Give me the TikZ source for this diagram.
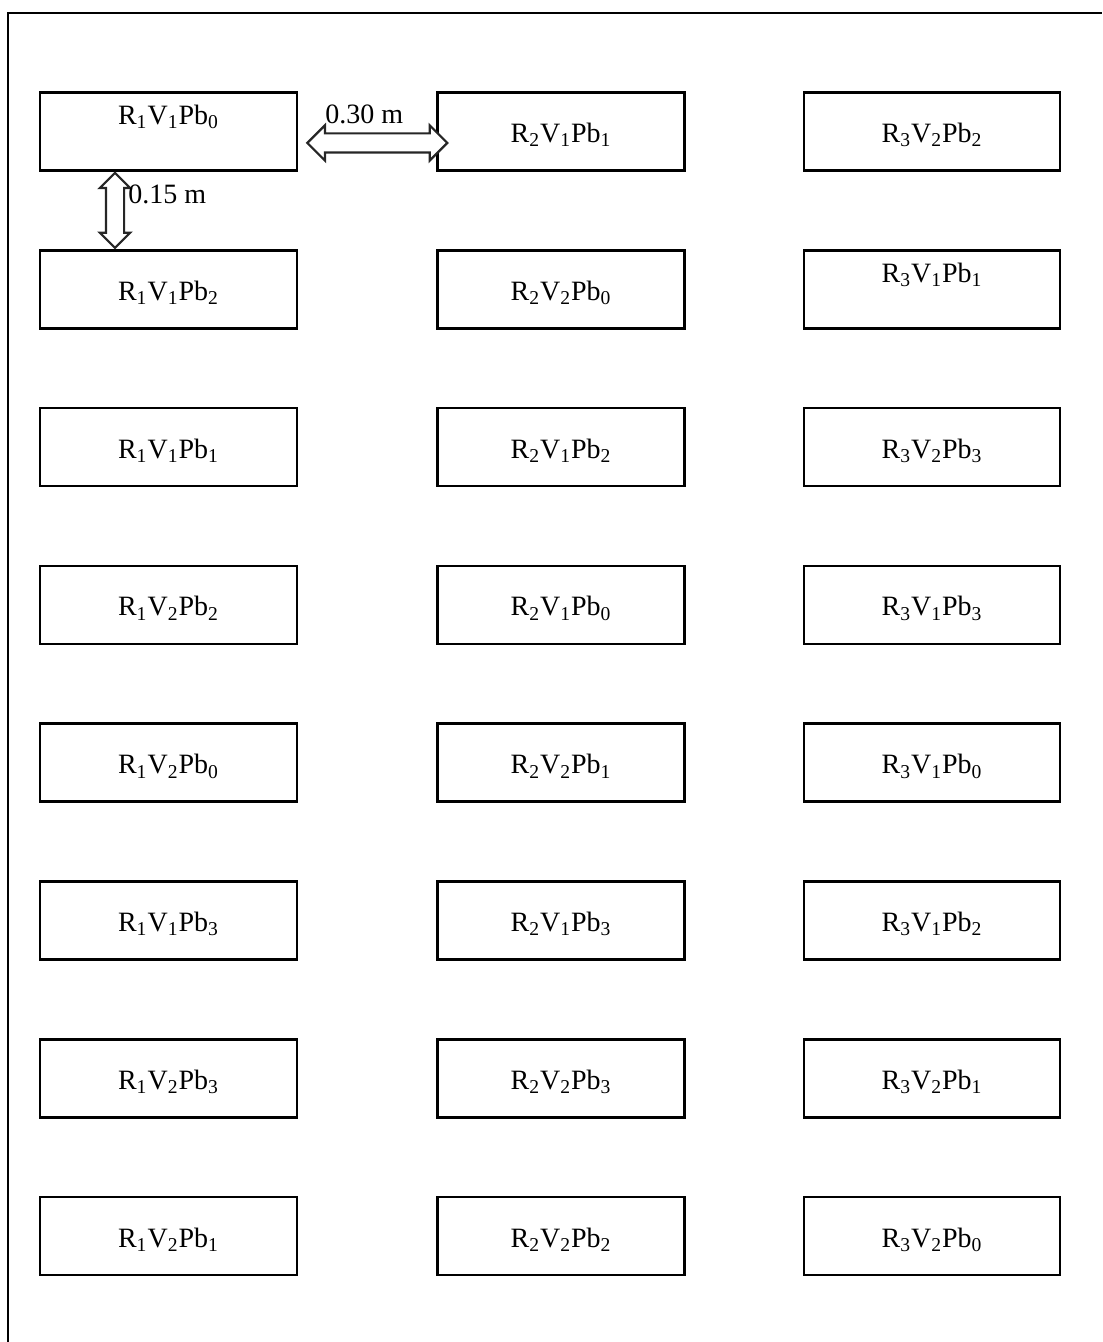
\documentclass[tikz,border=0pt]{standalone}
\usepackage{fontspec}
\setmainfont{Liberation Serif}
\usetikzlibrary{positioning,calc,shapes.arrows}
\newcommand{\plotlab}[3]{R\textsubscript{#1}V\textsubscript{#2}Pb\textsubscript{#3}}
\tikzset{
  plotbox/.style={draw,line width=1.3pt,inner sep=0pt,minimum height=39pt,
    text height=13pt,text depth=2pt,font=\fontsize{14}{16}\selectfont},
  colA/.style={plotbox,minimum width=128.5pt},
  colB/.style={plotbox,minimum width=123.5pt},
  colC/.style={plotbox,minimum width=128pt},
  toptext/.style={text depth=20pt},
  gaparrow/.style={draw=black!85,fill=white,line width=1.1pt,double arrow,
    double arrow head indent=0pt,double arrow tip angle=90,inner sep=0pt,
    text width=#1,text height=#1,text depth=0pt},
  gaplab/.style={font=\fontsize{14}{16}\selectfont,anchor=base west,inner sep=0pt}
}
\begin{document}
\begin{tikzpicture}[x=0.5pt,y=-0.5pt]
\useasboundingbox (0,0) rectangle (1102,1342);
\draw[line width=1.2pt] (8,1342) -- (8,13) -- (1102,13);
% first column
\node[colA,toptext] (r1v1p0) at (168.5,131.5) {\plotlab{1}{1}{0}};
\node[colA,below=38.6pt of r1v1p0] (r1v1p2) {\plotlab{1}{1}{2}};
\node[colA,below=38.6pt of r1v1p2] (r1v1p1) {\plotlab{1}{1}{1}};
\node[colA,below=38.6pt of r1v1p1] (r1v2p2) {\plotlab{1}{2}{2}};
\node[colA,below=38.6pt of r1v2p2] (r1v2p0) {\plotlab{1}{2}{0}};
\node[colA,below=38.6pt of r1v2p0] (r1v1p3) {\plotlab{1}{1}{3}};
\node[colA,below=38.6pt of r1v1p3] (r1v2p3) {\plotlab{1}{2}{3}};
\node[colA,below=38.6pt of r1v2p3] (r1v2p1) {\plotlab{1}{2}{1}};
% second column
\node[colB,right=69pt of r1v1p0] (r2v1p1) {\plotlab{2}{1}{1}};
\node[colB,below=38.6pt of r2v1p1] (r2v2p0) {\plotlab{2}{2}{0}};
\node[colB,below=38.6pt of r2v2p0] (r2v1p2) {\plotlab{2}{1}{2}};
\node[colB,below=38.6pt of r2v1p2] (r2v1p0) {\plotlab{2}{1}{0}};
\node[colB,below=38.6pt of r2v1p0] (r2v2p1) {\plotlab{2}{2}{1}};
\node[colB,below=38.6pt of r2v2p1] (r2v1p3) {\plotlab{2}{1}{3}};
\node[colB,below=38.6pt of r2v1p3] (r2v2p3) {\plotlab{2}{2}{3}};
\node[colB,below=38.6pt of r2v2p3] (r2v2p2) {\plotlab{2}{2}{2}};
% third column
\node[colC,right=58.4pt of r2v1p1] (r3v2p2) {\plotlab{3}{2}{2}};
\node[colC,toptext,below=38.6pt of r3v2p2] (r3v1p1) {\plotlab{3}{1}{1}};
\node[colC,below=38.6pt of r3v1p1] (r3v2p3) {\plotlab{3}{2}{3}};
\node[colC,below=38.6pt of r3v2p3] (r3v1p3) {\plotlab{3}{1}{3}};
\node[colC,below=38.6pt of r3v1p3] (r3v1p0) {\plotlab{3}{1}{0}};
\node[colC,below=38.6pt of r3v1p0] (r3v1p2) {\plotlab{3}{1}{2}};
\node[colC,below=38.6pt of r3v1p2] (r3v2p1) {\plotlab{3}{2}{1}};
\node[colC,below=38.6pt of r3v2p1] (r3v2p0) {\plotlab{3}{2}{0}};
% spacing arrows
\node[gaparrow=8.5pt,minimum height=70pt,double arrow head extend=4pt]
  (colgap) at ($(r1v1p0.east)!.5!(r2v1p1.west)+(10,11.5)$) {};
\node[gaparrow=8pt,shape border rotate=90,minimum height=37.5pt,
  double arrow head extend=3pt] (rowgap) at ($(r1v1p0.south)!.5!(r1v1p2.north)+(-53.5,0)$) {};
\node[gaplab] (collab) at (325,124) {0.30 m};
\node[gaplab] (rowlab) at (128,204) {0.15 m};
\end{tikzpicture}
\end{document}
